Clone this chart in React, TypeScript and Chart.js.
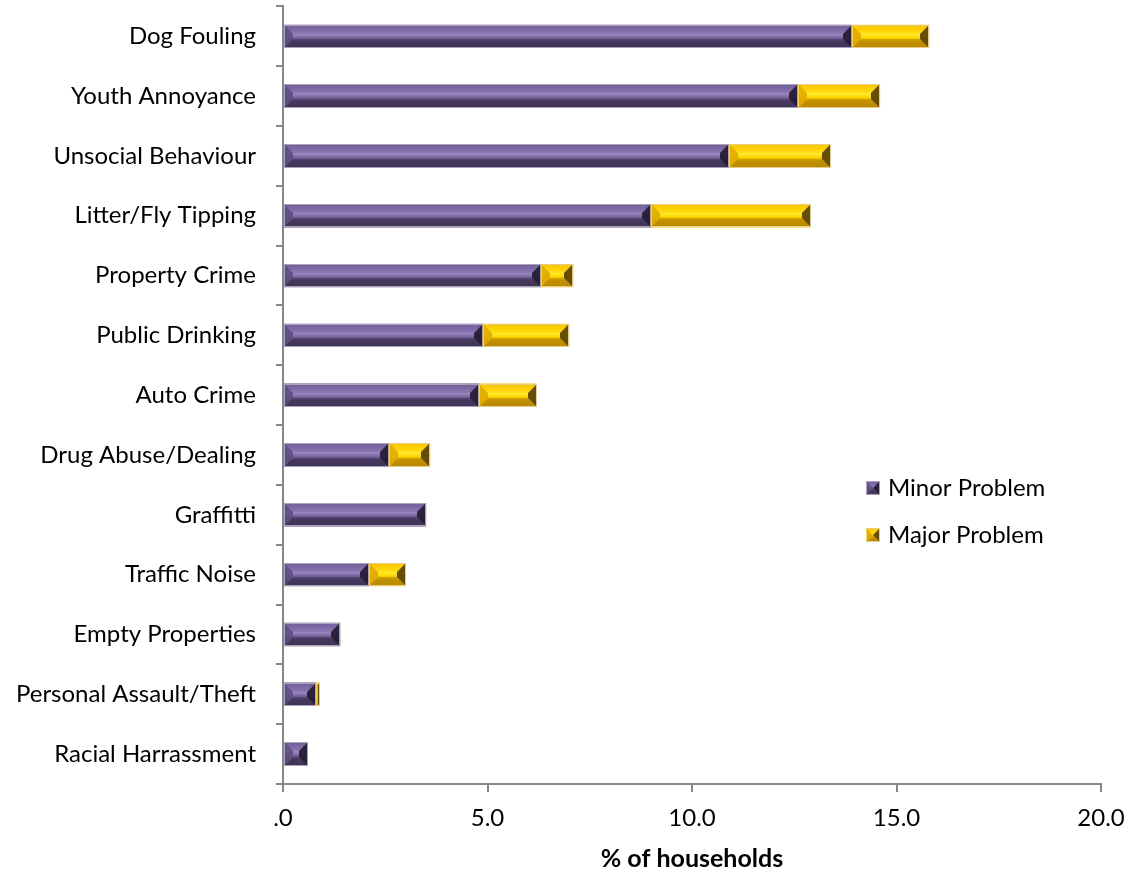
import React, { useEffect, useRef } from "react";
import { Chart, registerables } from "chart.js";

Chart.register(...registerables);

const categories = [
  "Dog Fouling",
  "Youth Annoyance",
  "Unsocial Behaviour",
  "Litter/Fly Tipping",
  "Property Crime",
  "Public Drinking",
  "Auto Crime",
  "Drug Abuse/Dealing",
  "Graffitti",
  "Traffic Noise",
  "Empty Properties",
  "Personal Assault/Theft",
  "Racial Harrassment",
];
const minorProblem = [13.9, 12.6, 10.9, 9.0, 6.3, 4.9, 4.8, 2.6, 3.5, 2.1, 1.4, 0.8, 0.6];
const majorProblem = [1.9, 2.0, 2.5, 3.9, 0.8, 2.1, 1.4, 1.0, 0, 0.9, 0, 0.1, 0];
const seriesNames = ["Minor Problem", "Major Problem"];
const xTickLabels = [".0", "5.0", "10.0", "15.0", "20.0"];
const xTitle = "% of households";

const FONT = "Lato, 'Open Sans', sans-serif";
const SHIFT = 28;
const EXTRA = 5;

type Palette = {
  stops: [number, string][];
  left: string;
  right: string;
  top: string;
  bottom: string;
  edge: string;
};

const purple: Palette = {
  stops: [
    [0, "#6b5792"],
    [0.2, "#7e6aa6"],
    [0.4, "#9c89c2"],
    [0.55, "#7a66a0"],
    [0.72, "#4e3f68"],
    [1, "#473a5e"],
  ],
  left: "rgba(95,76,128,0.9)",
  right: "rgba(38,28,55,0.95)",
  top: "rgba(125,105,165,0.45)",
  bottom: "rgba(55,44,76,0.4)",
  edge: "#a9a1ba",
};
const yellow: Palette = {
  stops: [
    [0, "#f2ba00"],
    [0.2, "#ffd000"],
    [0.4, "#ffec30"],
    [0.55, "#ffd400"],
    [0.72, "#d9a400"],
    [1, "#c99600"],
  ],
  left: "rgba(225,170,0,0.9)",
  right: "rgba(95,70,0,0.95)",
  top: "rgba(255,210,0,0.4)",
  bottom: "rgba(150,110,0,0.35)",
  edge: "#e6cf85",
};

function drawBevel(ctx: CanvasRenderingContext2D, l: number, t: number, r: number, b: number, p: Palette, bev: number) {
  const w = r - l;
  const h = b - t;
  if (w <= 0 || h <= 0) return;
  const e = Math.min(bev, w / 2, h / 2);
  const g = ctx.createLinearGradient(0, t, 0, b);
  p.stops.forEach(([o, c]) => g.addColorStop(o, c));
  ctx.save();
  ctx.fillStyle = g;
  ctx.fillRect(l, t, w, h);
  ctx.fillStyle = p.top;
  ctx.beginPath();
  ctx.moveTo(l, t); ctx.lineTo(r, t); ctx.lineTo(r - e, t + e); ctx.lineTo(l + e, t + e); ctx.closePath(); ctx.fill();
  ctx.fillStyle = p.bottom;
  ctx.beginPath();
  ctx.moveTo(l, b); ctx.lineTo(r, b); ctx.lineTo(r - e, b - e); ctx.lineTo(l + e, b - e); ctx.closePath(); ctx.fill();
  ctx.fillStyle = p.left;
  ctx.beginPath();
  ctx.moveTo(l, t); ctx.lineTo(l + e, t + e); ctx.lineTo(l + e, b - e); ctx.lineTo(l, b); ctx.closePath(); ctx.fill();
  ctx.fillStyle = p.right;
  ctx.beginPath();
  ctx.moveTo(r, t); ctx.lineTo(r - e, t + e); ctx.lineTo(r - e, b - e); ctx.lineTo(r, b); ctx.closePath(); ctx.fill();
  ctx.strokeStyle = p.edge;
  ctx.lineWidth = 1;
  ctx.strokeRect(l + 0.5, t + 0.5, w - 1, h - 1);
  ctx.restore();
}

const palettes = [purple, yellow];

const bevelPlugin = {
  id: "bevelBars",
  afterDatasetsDraw(chart: any) {
    const ctx = chart.ctx as CanvasRenderingContext2D;
    chart.data.datasets.forEach((_: any, di: number) => {
      const meta = chart.getDatasetMeta(di);
      meta.data.forEach((el: any) => {
        const { x, y, base, height } = el.getProps(["x", "y", "base", "height"], true);
        const l = Math.min(x, base);
        const r = Math.max(x, base);
        if (r - l < 0.5) return;
        drawBevel(ctx, Math.round(l), Math.round(y - height / 2), Math.round(r), Math.round(y + height / 2), palettes[di], 9);
      });
    });
  },
};

const legendPlugin = {
  id: "customLegend",
  afterDraw(chart: any) {
    const ctx = chart.ctx as CanvasRenderingContext2D;
    const x0 = 866;
    const ys = [488 + SHIFT, 535 + SHIFT];
    ctx.save();
    seriesNames.forEach((name, i) => {
      const cy = ys[i];
      drawBevel(ctx, x0, cy - 7, x0 + 14, cy + 7, palettes[i], 7);
      ctx.fillStyle = "#000";
      ctx.font = `24px ${FONT}`;
      ctx.textAlign = "left";
      ctx.textBaseline = "middle";
      ctx.fillText(name, x0 + 22, cy);
    });
    ctx.restore();
  },
};

export default function App() {
  const ref = useRef<HTMLCanvasElement | null>(null);
  useEffect(() => {
    if (!ref.current) return;
    const chart = new Chart(ref.current, {
      type: "bar",
      data: {
        labels: categories,
        datasets: [
          { label: seriesNames[0], data: minorProblem, backgroundColor: "#5f4b7e", borderWidth: 0, barPercentage: 0.39, categoryPercentage: 1 },
          { label: seriesNames[1], data: majorProblem, backgroundColor: "#ffc000", borderWidth: 0, barPercentage: 0.39, categoryPercentage: 1 },
        ],
      },
      options: {
        indexAxis: "y",
        responsive: false,
        animation: false,
        layout: { padding: { top: 0, right: 36, left: 0, bottom: 0 } },
        plugins: { legend: { display: false }, tooltip: { enabled: false } },
        scales: {
          x: {
            stacked: true,
            min: 0,
            max: 20,
            ticks: {
              stepSize: 5,
              color: "#000",
              font: { family: FONT, size: 24 },
              padding: 12,
              maxRotation: 0,
              callback: (_v: any, i: number) => xTickLabels[i],
            },
            grid: { drawOnChartArea: false, drawTicks: true, tickLength: 8, color: "#868686", lineWidth: 2 },
            border: { color: "#868686", width: 2 },
            title: { display: true, text: xTitle, color: "#000", font: { family: FONT, size: 25, weight: "bold" }, padding: { top: 8 } },
            afterFit: (s: any) => { s.height = 89 + EXTRA; },
          },
          y: {
            stacked: true,
            ticks: { color: "#000", font: { family: FONT, size: 24 }, padding: 20 },
            grid: { drawOnChartArea: false, drawTicks: true, tickLength: 7, color: "#868686", lineWidth: 2, offset: true },
            border: { color: "#868686", width: 2 },
            afterFit: (s: any) => { s.width = 283; },
          },
        },
      },
      plugins: [bevelPlugin, legendPlugin],
    });
    return () => chart.destroy();
  }, []);
  return (
    <div style={{ position: "absolute", left: 0, top: 0, width: 1137, height: 873, overflow: "hidden", background: "#fff" }}>
      <canvas ref={ref} width={1137} height={873 + SHIFT + EXTRA} style={{ position: "absolute", left: 0, top: -SHIFT }} />
    </div>
  );
}
